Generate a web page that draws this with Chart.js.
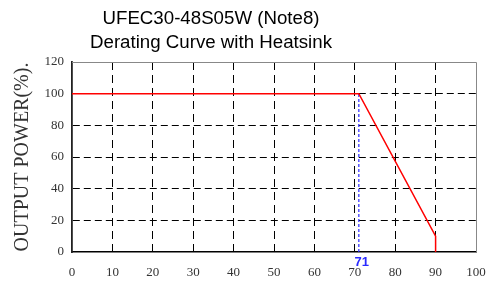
<!DOCTYPE html>
<html><head><meta charset="utf-8">
<script src="https://cdn.jsdelivr.net/npm/chart.js@4/dist/chart.umd.min.js"></script>
<style>html,body{margin:0;padding:0;background:#fff}#wrap{width:487px;height:282px}</style>
</head><body><div id="wrap"><canvas id="c" width="487" height="282"></canvas></div>
<script>
const titleLines = ["UFEC30-48S05W (Note8)", "Derating Curve with Heatsink"];
const yAxisTitle = "OUTPUT POWER(%).";
const temps = [0, 71, 90, 90];
const power = [100, 100, 10, 0];
const markerTemp = [71, 71];
const markerPower = [0, 100];
const markerLabel = "71";
const xMin = 0, xMax = 100, xStep = 10;
const yMin = 0, yMax = 120, yStep = 20;

const titlePlugin = {
  id: 'titleP',
  afterDraw(chart) {
    const ctx = chart.ctx;
    ctx.save();
    ctx.fillStyle = '#000';
    ctx.font = '18.7px "Liberation Sans", Arial, sans-serif';
    ctx.textAlign = 'center';
    ctx.textBaseline = 'middle';
    ctx.fillText(titleLines[0], 211, 19);
    ctx.fillText(titleLines[1], 211, 43);
    const a = chart.chartArea;
    ctx.strokeStyle = '#888';
    ctx.lineWidth = 1;
    ctx.beginPath();
    ctx.moveTo(a.left, a.top + 0.5);
    ctx.lineTo(a.right + 0.5, a.top + 0.5);
    ctx.lineTo(a.right + 0.5, a.bottom);
    ctx.stroke();
    const xs = chart.scales.x;
    ctx.fillStyle = '#2a2aff';
    ctx.font = 'bold 13px "Liberation Sans", Arial, sans-serif';
    ctx.fillText(markerLabel, xs.getPixelForValue(markerTemp[0]) + 3, a.bottom + 10);
    ctx.fillStyle = '#333';
    ctx.font = '20px "Liberation Serif", "Times New Roman", serif';
    ctx.translate(23, (a.top + a.bottom) / 2);
    ctx.rotate(-Math.PI / 2);
    ctx.fillText(yAxisTitle, 0, 0);
    ctx.restore();
  }
};

new Chart(document.getElementById('c'), {
  type: 'line',
  data: {
    datasets: [
      {
        data: temps.map((t, i) => ({x: t, y: power[i]})),
        borderColor: '#ff0000', borderWidth: 1.5, pointRadius: 0, tension: 0, order: 1
      },
      {
        data: markerTemp.map((t, i) => ({x: t, y: markerPower[i]})),
        borderColor: '#2a2aff', borderWidth: 1.2, borderDash: [3, 2], pointRadius: 0, order: 2
      }
    ]
  },
  options: {
    responsive: false, animation: false,
    layout: {padding: {top: 62, right: 11, left: 0, bottom: 0}, autoPadding: false},
    plugins: {legend: {display: false}, tooltip: {enabled: false}, title: {display: false}},
    scales: {
      x: {
        type: 'linear', min: xMin, max: xMax,
        afterFit(s) { s.height = 30; s.paddingLeft = 0; s.paddingRight = 0; },
        ticks: {stepSize: xStep, padding: 13, color: '#333', font: {family: '"Liberation Serif", "Times New Roman", serif', size: 13}},
        grid: {drawTicks: false, color: c => (c.tick && (c.tick.value === xMin || c.tick.value === xMax)) ? 'rgba(0,0,0,0)' : '#000', lineWidth: 1},
        border: {display: true, color: '#000', width: 1.5, dash: [8, 5]}
      },
      y: {
        min: yMin, max: yMax,
        afterFit(s) { s.width = 72; s.paddingTop = 0; s.paddingBottom = 0; },
        ticks: {stepSize: yStep, padding: 8, color: '#333', font: {family: '"Liberation Serif", "Times New Roman", serif', size: 13}},
        grid: {drawTicks: false, color: c => (c.tick && (c.tick.value === yMin || c.tick.value === yMax)) ? 'rgba(0,0,0,0)' : '#000', lineWidth: 1},
        border: {display: true, color: '#222', width: 1.8, dash: [7, 4]}
      }
    }
  },
  plugins: [titlePlugin]
});
</script></body></html>
